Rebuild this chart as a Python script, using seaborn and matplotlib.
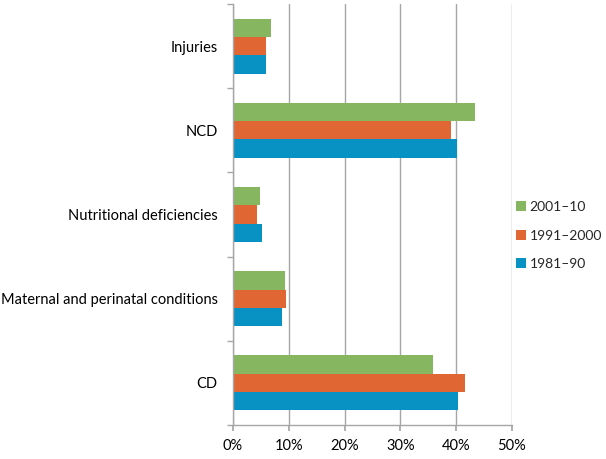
import pandas as pd
import matplotlib.pyplot as plt
import seaborn as sns
from matplotlib.ticker import PercentFormatter, FixedLocator

# data (percent)
causes = ['Injuries', 'NCD', 'Nutritional deficiencies',
          'Maternal and perinatal conditions', 'CD']
periods = ['2001–10', '1991–2000', '1981–90']
share_2001_10 = [6.8, 43.3, 4.9, 9.4, 35.8]
share_1991_2000 = [6.0, 39.0, 4.25, 9.5, 41.5]
share_1981_90 = [5.9, 40.1, 5.2, 8.7, 40.4]
colors = ['#86b660', '#e06633', '#0891c3']

df = pd.DataFrame({'cause': causes,
                   periods[0]: share_2001_10,
                   periods[1]: share_1991_2000,
                   periods[2]: share_1981_90})
df_long = df.melt(id_vars='cause', var_name='period', value_name='share')

sns.set_theme(style='white')
plt.rcParams['font.family'] = ['Lato', 'DejaVu Sans']

fig = plt.figure(figsize=(6.06, 4.59), dpi=100)
ax = fig.add_axes([233 / 606, 34 / 459, 279 / 606, 421 / 459])

sns.barplot(data=df_long, y='cause', x='share', hue='period',
            order=causes, hue_order=periods, palette=colors,
            orient='h', width=0.655, saturation=1, linewidth=0, ax=ax)

ax.set_xlim(0, 50)
ax.set_ylim(len(causes) - 0.5, -0.5)
ax.xaxis.set_major_formatter(PercentFormatter(decimals=0))
ax.set_xticks(range(0, 51, 10))
ax.grid(axis='x', color='#a6a6a6', linewidth=1)
ax.set_axisbelow(True)
ax.set_xlabel('')
ax.set_ylabel('')

for s in ['top', 'right']:
    ax.spines[s].set_visible(False)
for s in ['left', 'bottom']:
    ax.spines[s].set_color('#a6a6a6')
    ax.spines[s].set_linewidth(1)

# excel style: category ticks between groups
ax.yaxis.set_minor_locator(FixedLocator([i - 0.5 for i in range(len(causes) + 1)]))
ax.tick_params(axis='y', which='major', length=0, labelsize=10.5, pad=11, colors='black')
ax.tick_params(axis='y', which='minor', left=True, length=4, color='#a6a6a6')
ax.tick_params(axis='x', bottom=True, length=4, color='#a6a6a6',
               labelsize=10.5, pad=6, colors='black')
ax.tick_params(axis='x', labelcolor='black')

ax.legend(loc='center left', bbox_to_anchor=(1.0, 0.45), frameon=False,
          borderaxespad=0.1, borderpad=0.2,
          handlelength=0.7, handleheight=0.7, handletextpad=0.25,
          labelspacing=1.2, fontsize=10)

fig.savefig('out.png', dpi=100)
